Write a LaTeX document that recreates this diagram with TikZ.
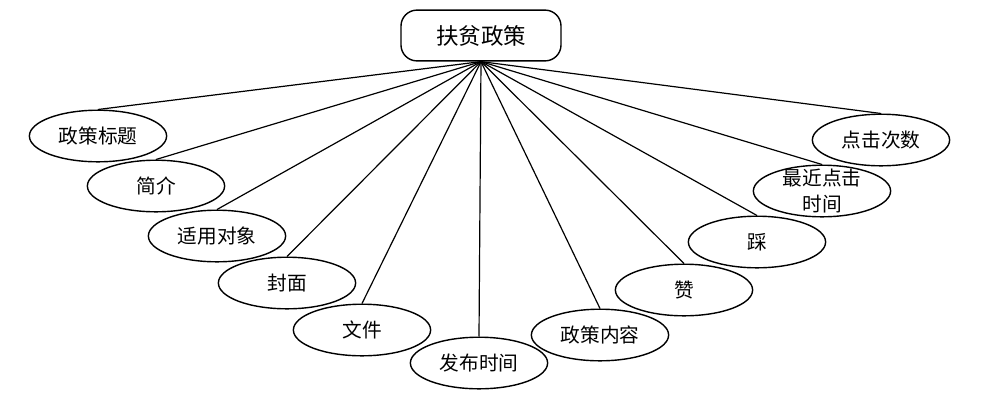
\documentclass[tikz,border=0pt]{standalone}
\usepackage{fontspec}
\newfontfamily\cjk{Noto Sans CJK SC}
\usetikzlibrary{shapes.geometric, positioning}
\tikzset{attr/.style={ellipse,draw,line width=1pt,minimum width=3.43cm,minimum height=1.29cm,
        inner sep=0pt,align=center,font=\cjk\fontsize{14}{18}\selectfont},
    entity/.style={rectangle,draw,rounded corners=0.4cm,line width=1pt,minimum width=4cm,
        minimum height=1.27cm,font=\cjk\fontsize{16}{18}\selectfont},
    link/.style={draw,line width=0.85pt,-}}

\begin{document}
\begin{tikzpicture}[x=0.025cm,y=-0.025cm]
    \useasboundingbox (0,0) rectangle (988,404);
    \node[entity] (fp) at (481,35.5) {扶贫政策};

    \foreach \pos/\name/\txt in {{(98,136)/bt/政策标题}, {(156,186)/jj/简介}, {(217,236)/sy/适用对象},
        {(287,283)/fm/封面}, {(362,330)/wj/文件}, {(479,363)/fb/发布时间}, {(600,335)/nr/政策内容},
        {(684,290)/zan/赞}, {(757,242)/cai/踩}, {(881,140)/dj/点击次数}}
                \node[attr] (\name) at \pos {\txt};
    \node[attr, inner ysep=-4pt] (zj) at (822,191) {最近点击\\时间};

    \foreach \dest in {bt, jj, sy, fm, wj, fb, nr, zan, cai, zj, dj}
              \draw[link] (fp.south) -- (\dest.north);
\end{tikzpicture}
\end{document}
